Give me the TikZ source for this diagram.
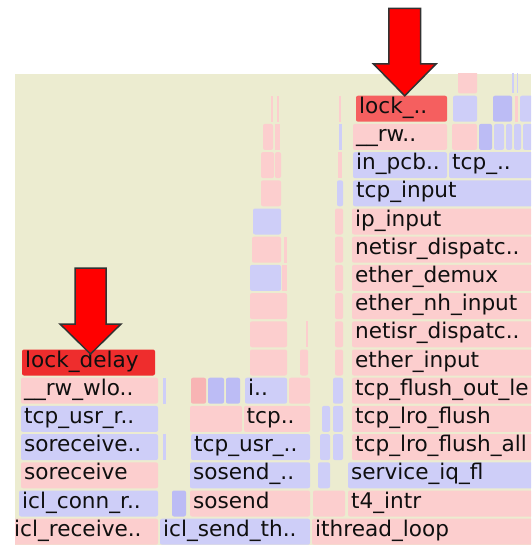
\documentclass[tikz,border=0pt]{standalone}
\usepackage{fontspec}
\setmainfont{DejaVu Sans}
\definecolor{bg}{RGB}{236,236,208}
\definecolor{pk}{RGB}{252,206,206}
\definecolor{pkd}{RGB}{248,180,180}
\definecolor{bl}{RGB}{206,206,248}
\definecolor{bld}{RGB}{188,188,245}
\definecolor{rd}{RGB}{238,45,45}
\definecolor{rdl}{RGB}{245,95,95}
\definecolor{arrowred}{RGB}{255,0,0}
\definecolor{edgegray}{RGB}{50,50,50}
\definecolor{txt}{RGB}{15,15,15}
% row centre: 531.7 - 28.2*row (pixels, y downwards)
\newcommand{\fgb}[4]{\fill[#4, rounded corners=2pt] (#2,{531.7-28.2*#1-13}) rectangle (#3,{531.7-28.2*#1+13});}
\newcommand{\fgs}[4]{\fill[#4] (#2,{531.7-28.2*#1-13}) rectangle (#3,{531.7-28.2*#1+13});}
\tikzset{
  lbl/.style={anchor=base west, inner sep=0pt, text=txt, font=\fontsize{21.6}{21.6}\selectfont},
  bigarrow/.style={fill=arrowred, draw=edgegray, line width=1.5pt, line join=miter}
}
\begin{document}
\begin{tikzpicture}[x=1pt,y=-1pt]
\useasboundingbox (0,0) rectangle (531,545);
\fill[bg] (15,74) rectangle (531,545);
\begin{scope}
\clip (15,74) rectangle (531,545);
% row 0
\fgb{0}{11}{158}{pk} \node[lbl] (t0a) at (14,{531.7+4.5}) {icl\_receive..};
\fgb{0}{160}{310}{bl} \node[lbl] (t0b) at (163,{531.7+4.5}) {icl\_send\_th..};
\fgb{0}{312}{540}{pk} \node[lbl] (t0c) at (315,{531.7+4.5}) {ithread\_loop};
% row 1
\fgb{1}{19}{158}{bl} \node[lbl] (t1a) at (22,{503.5+4.5}) {icl\_conn\_r..};
\fgb{1}{172}{186}{bld}
\fgb{1}{190}{310}{pk} \node[lbl] (t1b) at (193,{503.5+4.5}) {sosend};
\fgb{1}{313}{345}{pk}
\fgb{1}{348}{540}{pk} \node[lbl] (t1c) at (351,{503.5+4.5}) {t4\_intr};
% row 2
\fgb{2}{21}{158}{pk} \node[lbl] (t2a) at (24,{475.3+4.5}) {soreceive};
\fgb{2}{190}{310}{bl} \node[lbl] (t2b) at (193,{475.3+4.5}) {sosend\_..};
\fgb{2}{318}{330}{bl}
\fgb{2}{348}{540}{bl} \node[lbl] (t2c) at (351,{475.3+4.5}) {service\_iq\_fl};
% row 3
\fgb{3}{21}{158}{bl} \node[lbl] (t3a) at (24,{447.1+4.5}) {soreceive..};
\fgs{3}{163}{166}{bl}
\fgb{3}{191}{310}{bl} \node[lbl] (t3b) at (194,{447.1+4.5}) {tcp\_usr\_..};
\fgb{3}{320}{330}{bl}
\fgb{3}{333}{343}{bl}
\fgb{3}{352}{540}{pk} \node[lbl] (t3c) at (355,{447.1+4.5}) {tcp\_lro\_flush\_all};
% row 4
\fgb{4}{21}{158}{bl} \node[lbl] (t4a) at (24,{418.9+4.5}) {tcp\_usr\_r..};
\fgb{4}{190}{242}{pk}
\fgb{4}{244}{310}{pk} \node[lbl] (t4b) at (246.5,{418.9+4.5}) {tcp..};
\fgb{4}{322}{330}{bl}
\fgb{4}{333}{343}{bl}
\fgb{4}{352}{540}{pk} \node[lbl] (t4c) at (355,{418.9+4.5}) {tcp\_lro\_flush};
% row 5
\fgb{5}{21}{158}{pk} \node[lbl] (t5a) at (24,{390.7+4.5}) {\_\_rw\_wlo..};
\fgs{5}{163}{166}{bl}
\fgb{5}{191}{206}{pkd}
\fgb{5}{208}{224}{bld}
\fgb{5}{226}{240}{bld}
\fgb{5}{245}{287}{bl} \node[lbl] (t5b) at (248,{390.7+4.5}) {i..};
\fgb{5}{289}{310}{pk}
\fgb{5}{333}{343}{bl}
\fgb{5}{352}{540}{pk} \node[lbl] (t5c) at (355,{390.7+4.5}) {tcp\_flush\_out\_le};
% row 6
\fgb{6}{22}{155}{rd} \node[lbl] (t6a) at (25,{362.5+4.5}) {lock\_delay};
\fgb{6}{250}{287}{pk}
\fgb{6}{300}{308}{pk}
\fgb{6}{335}{343}{pk}
\fgb{6}{352}{540}{pk} \node[lbl] (t6b) at (355,{362.5+4.5}) {ether\_input};
% row 7
\fgb{7}{250}{287}{pk}
\fgs{7}{306}{308}{pk}
\fgb{7}{335}{343}{pk}
\fgb{7}{352}{540}{pk} \node[lbl] (t7) at (355,{334.3+4.5}) {netisr\_dispatc..};
% row 8
\fgb{8}{250}{287}{pk}
\fgb{8}{335}{343}{pk}
\fgb{8}{352}{540}{pk} \node[lbl] (t8) at (355,{306.1+4.5}) {ether\_nh\_input};
% row 9
\fgb{9}{250}{281}{bl}
\fgs{9}{282}{287}{pk}
\fgb{9}{335}{343}{pk}
\fgb{9}{352}{540}{pk} \node[lbl] (t9) at (355,{277.9+4.5}) {ether\_demux};
% row 10
\fgb{10}{252}{281}{pk}
\fgs{10}{284}{287}{pk}
\fgb{10}{335}{343}{pk}
\fgb{10}{352}{540}{pk} \node[lbl] (t10) at (355,{249.7+4.5}) {netisr\_dispatc..};
% row 11
\fgb{11}{253}{281}{bl}
\fgb{11}{335}{343}{pk}
\fgb{11}{352}{540}{pk} \node[lbl] (t11) at (355,{221.5+4.5}) {ip\_input};
% row 12
\fgb{12}{261}{281}{pk}
\fgb{12}{337}{343}{bl}
\fgb{12}{353}{540}{bl} \node[lbl] (t12) at (356,{193.3+4.5}) {tcp\_input};
% row 13
\fgb{13}{261}{274}{pk}
\fgb{13}{275}{281}{pk}
\fgs{13}{338}{342}{pk}
\fgb{13}{353}{447}{bl} \node[lbl] (t13a) at (356,{165.1+4.5}) {in\_pcb..};
\fgb{13}{449}{540}{bl} \node[lbl] (t13b) at (452,{165.1+4.5}) {tcp\_..};
% row 14
\fgb{14}{263}{273}{pk}
\fgs{14}{275}{280}{pk}
\fgs{14}{339}{342}{bl}
\fgb{14}{353}{447}{pk} \node[lbl] (t14) at (356,{136.9+4.5}) {\_\_rw..};
\fgb{14}{452}{477}{pk}
\fgb{14}{479}{492}{bld}
\fgb{14}{494}{504}{bl}
\fgb{14}{506}{512}{bl}
\fgb{14}{514}{521}{bl}
\fgb{14}{523}{540}{bl}
% row 15
\fgs{15}{271}{273}{pk}
\fgs{15}{277}{279}{pk}
\fgs{15}{339}{341}{pk}
\fgb{15}{356}{447}{rdl} \node[lbl] (t15) at (359,{108.7+4.5}) {lock\_..};
\fgb{15}{453}{477}{bl}
\fgb{15}{493}{512}{bld}
\fgs{15}{515}{518}{pk}
\fgb{15}{520}{540}{bl}
% row 16
\fgb{16}{458}{477}{pk}
\fgs{16}{512}{514}{bl}
\fgs{16}{517}{518}{bl}
\end{scope}
% arrows
\draw[bigarrow] (388.8,8.5) -- (420.6,8.5) -- (420.6,64) -- (436,64) -- (404.7,95.8) -- (373.5,64) -- (388.8,64) -- cycle;
\draw[bigarrow] (75,268) -- (106,268) -- (106,324) -- (121,324) -- (90.5,354) -- (60,324) -- (75,324) -- cycle;
\end{tikzpicture}
\end{document}
